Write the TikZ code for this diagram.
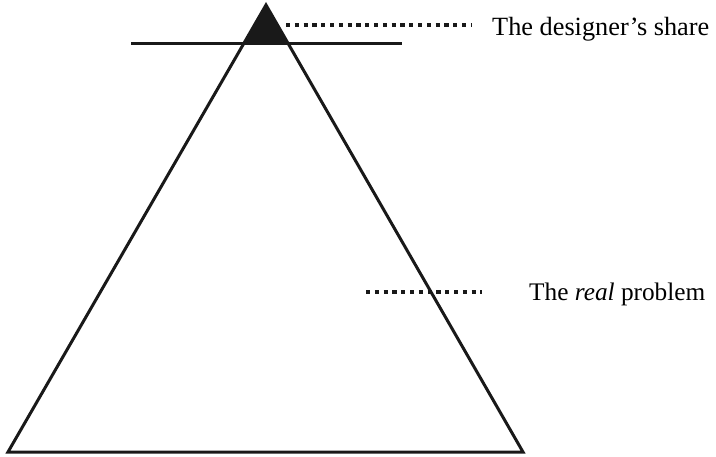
\documentclass[tikz,border=0pt]{standalone}
\usepackage{fontspec}
\setmainfont{Liberation Serif}
\usetikzlibrary{calc}
\begin{document}
\begin{tikzpicture}[x=1pt,y=-1pt,
  outline/.style={line width=3pt, black!90},
  dotline/.style={line width=4pt, black!90, dash pattern=on 4.2pt off 4.6pt},
  label/.style={inner sep=0pt, anchor=base west}]
\useasboundingbox (0,0) rectangle (716,456);
\coordinate (apex) at (266,5);
\coordinate (bl) at (8,452);
\coordinate (br) at (523,452);
\coordinate (tl) at ($(apex)!38/447!(bl)$);
\coordinate (tr) at ($(apex)!38/447!(br)$);
\fill[black!90] (apex) -- (tl) -- (tr) -- cycle;
\draw[outline, line join=miter] (apex) -- (bl) -- (br) -- cycle;
\coordinate (hl) at (131,43);
\coordinate (hr) at (402,43);
\draw[outline] (hl) -- (hr);
\node[label, font=\fontsize{26.3}{30}\selectfont] (share) at (492,35) {The designer’s share};
\node[label, font=\fontsize{25.3}{30}\selectfont] (real) at (529,300) {The \textit{real} problem};
\coordinate (d1a) at (286,25);
\coordinate (d1b) at (472,25);
\coordinate (d2a) at (366,292);
\coordinate (d2b) at (482,292);
\draw[dotline] (d1a) -- (d1b);
\draw[dotline] (d2a) -- (d2b);
\end{tikzpicture}
\end{document}
